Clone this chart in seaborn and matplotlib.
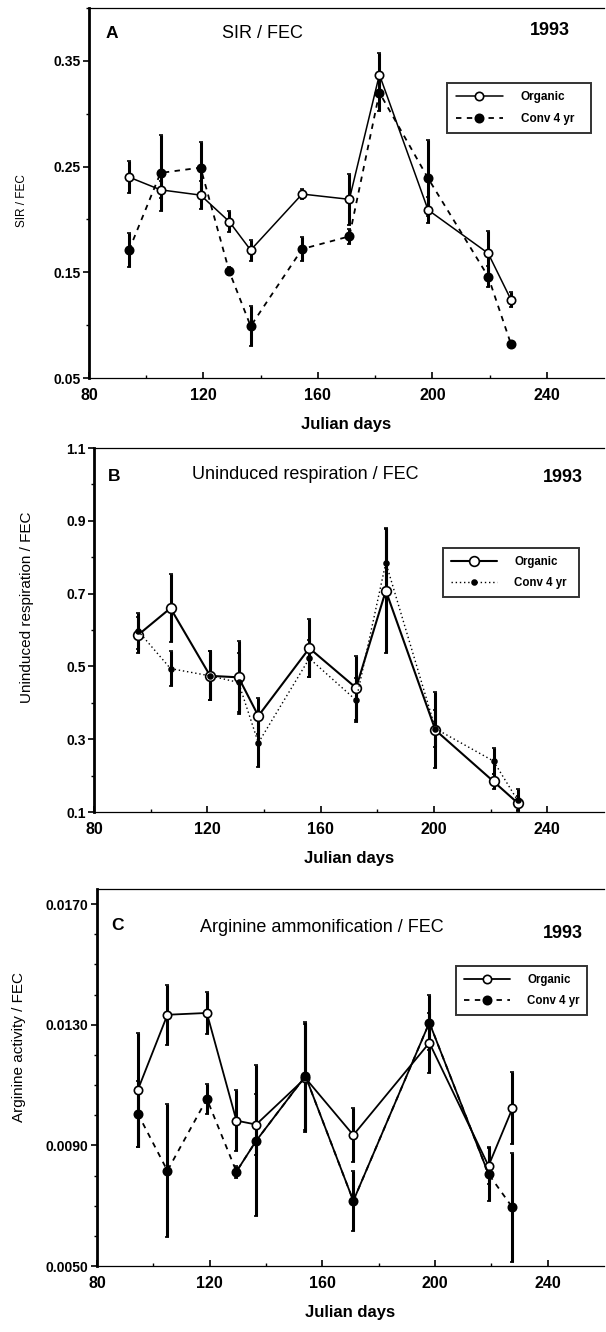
import numpy as np
import pandas as pd
import matplotlib
matplotlib.use("Agg")
import matplotlib.pyplot as plt
import seaborn as sns
from matplotlib.ticker import MultipleLocator, FixedLocator

# ---------------- data ----------------
days_a = [94, 105, 119, 129, 136.5, 154.5, 171, 181.5, 198.5, 219.5, 227.5]
org_a = [0.240, 0.228, 0.223, 0.198, 0.171, 0.224, 0.219, 0.337, 0.209, 0.168, 0.124]
org_a_err = [0.015, 0.008, 0.013, 0.010, 0.010, 0.005, 0.024, 0.020, 0.012, 0.021, 0.007]
conv_a = [0.171, 0.244, 0.249, 0.151, 0.099, 0.172, 0.184, 0.320, 0.239, 0.146, 0.082]
conv_a_err = [0.016, 0.036, 0.024, 0.004, 0.019, 0.011, 0.007, 0.017, 0.036, 0.010, 0.002]

days_b = [95.5, 107, 121, 131, 138, 156, 172.5, 183, 200.5, 221, 229.5]
org_b = [0.586, 0.660, 0.474, 0.470, 0.364, 0.550, 0.441, 0.708, 0.325, 0.184, 0.125]
org_b_err = [0.05, 0.093, 0.067, 0.10, 0.05, 0.08, 0.087, 0.17, 0.105, 0.02, 0.02]
conv_b = [0.598, 0.494, 0.474, 0.456, 0.290, 0.522, 0.407, 0.785, 0.329, 0.240, 0.132]
conv_b_err = [0.05, 0.048, 0.067, 0.08, 0.066, 0.05, 0.06, 0.095, 0.05, 0.035, 0.03]

days_c = [94.5, 105, 119, 129.5, 136.5, 154, 171, 198, 219, 227.5]
org_c = [0.01084, 0.01333, 0.01339, 0.00982, 0.00969, 0.01123, 0.00934, 0.01240, 0.00832, 0.01023]
org_c_err = [0.0019, 0.0010, 0.0007, 0.0010, 0.0010, 0.0018, 0.0009, 0.0010, 0.0006, 0.0012]
conv_c = [0.01005, 0.00816, 0.01054, 0.00813, 0.00915, 0.01130, 0.00716, 0.01307, 0.00805, 0.00694]
conv_c_err = [0.0011, 0.0022, 0.0005, 0.0002, 0.0025, 0.0018, 0.0010, 0.0009, 0.0009, 0.0018]

series_names = ["Organic", "Conv 4 yr"]
panel_letters = ["A", "B", "C"]
panel_titles = ["SIR / FEC", "Uninduced respiration / FEC", "Arginine ammonification / FEC"]
year_label = "1993"
y_labels = ["SIR / FEC", "Uninduced respiration / FEC", "Arginine activity / FEC"]
x_label = "Julian days"
x_ticks = [80, 120, 160, 200, 240]
y_ticks_a = [0.05, 0.15, 0.25, 0.35]
y_tick_labels_a = ["0.05", "0.15", "0.25", "0.35"]
y_ticks_b = [0.1, 0.3, 0.5, 0.7, 0.9, 1.1]
y_tick_labels_b = ["0.1", "0.3", "0.5", "0.7", "0.9", "1.1"]
y_ticks_c = [0.0050, 0.0090, 0.0130, 0.0170]
y_tick_labels_c = ["0.0050", "0.0090", "0.0130", "0.0170"]

# ---------------- style ----------------
sns.set_theme(style="ticks")
plt.rcParams['font.family'] = ['Liberation Sans', 'DejaVu Sans']
plt.rcParams['font.weight'] = 'bold'
for k in ["text.color", "axes.labelcolor", "xtick.color", "ytick.color", "axes.edgecolor"]:
    plt.rcParams[k] = "black"

fig = plt.figure(figsize=(6.06, 13.32), dpi=100)
fig.patch.set_facecolor("white")

axA = fig.add_axes([89/606, 1 - 378/1332, 515/606, 370/1332])
axB = fig.add_axes([94/606, 1 - 812/1332, 510/606, 364/1332])
axC = fig.add_axes([97/606, 1 - 1266/1332, 507/606, 377/1332])


def draw_series(ax, x, y, err, ls, marker, ms, mfc, lw, label, eb_lw=2.2, solid_span=None):
    df = pd.DataFrame({"day": x, "val": y})
    sns.lineplot(data=df, x="day", y="val", ax=ax, sort=False, color="black",
                 linestyle=ls, linewidth=lw, marker=marker, markersize=ms,
                 markerfacecolor=mfc, markeredgecolor="black", markeredgewidth=1.2,
                 label=label, zorder=3)
    if solid_span is not None:
        i0, i1 = solid_span
        sub = df.iloc[i0:i1 + 1]
        sns.lineplot(data=sub, x="day", y="val", ax=ax, sort=False, color="black",
                     linestyle="-", linewidth=lw, legend=False, zorder=2.5)
    ax.errorbar(x, y, yerr=err, fmt="none", ecolor="black", elinewidth=eb_lw,
                capsize=1.5, capthick=1.2, zorder=2)


def style_axes(ax, ylim, yticks, yticklabels, minor_step, letter, title, title_pos,
               year_pos, letter_pos, ylabel, ylabel_fs, ylabel_pos, leg_bbox, leg_fs):
    ax.set_xlim(80, 260)
    ax.set_ylim(*ylim)
    ax.set_xticks(x_ticks)
    ax.set_xticklabels([str(t) for t in x_ticks], fontsize=11.5, fontweight="bold")
    ax.xaxis.set_minor_locator(FixedLocator([100, 140, 180, 220]))
    ax.set_yticks(yticks)
    ax.set_yticklabels(yticklabels, fontsize=10, fontweight="bold")
    ax.yaxis.set_minor_locator(MultipleLocator(minor_step))
    ax.tick_params(axis="y", which="major", direction="out", length=4, width=1.2, pad=2)
    ax.tick_params(axis="y", which="minor", direction="out", length=2, width=1)
    ax.tick_params(axis="x", which="major", direction="in", length=4, width=1.2, pad=7)
    ax.tick_params(axis="x", which="minor", direction="in", length=2, width=1)
    ax.spines["left"].set_linewidth(2.0)
    ax.spines["bottom"].set_linewidth(0.9)
    ax.spines["top"].set_linewidth(0.9)
    ax.spines["right"].set_visible(False)
    ax.set_xlabel(x_label, fontsize=12, fontweight="bold", labelpad=10)
    ax.set_ylabel(ylabel, fontsize=ylabel_fs, fontweight="normal")
    ax.yaxis.set_label_coords(*ylabel_pos)
    ax.text(letter_pos[0], letter_pos[1], letter, transform=ax.transAxes,
            fontsize=12.5, fontweight="bold", ha="center", va="center")
    ax.text(title_pos[0], title_pos[1], title, transform=ax.transAxes,
            fontsize=13, fontweight="normal", ha="center", va="center")
    ax.text(year_pos[0], year_pos[1], year_label, transform=ax.transAxes,
            fontsize=13, fontweight="bold", ha="center", va="center")
    leg = ax.legend(loc="lower left", bbox_to_anchor=leg_bbox, mode="expand",
                    frameon=True, fancybox=False, edgecolor="black",
                    fontsize=leg_fs, handlelength=4.0, borderpad=0.7,
                    labelspacing=0.8, handletextpad=1.5, borderaxespad=0)
    leg.get_frame().set_linewidth(1.4)
    for t in leg.get_texts():
        t.set_fontweight("bold")
    ax.set_facecolor("white")


# Panel A
draw_series(axA, days_a, org_a, org_a_err, "-", "o", 6, "white", 1.1, series_names[0])
draw_series(axA, days_a, conv_a, conv_a_err, (0, (3, 3)), "o", 6, "black", 1.3, series_names[1])
style_axes(axA, (0.05, 0.40), y_ticks_a, y_tick_labels_a, 0.05, panel_letters[0],
           panel_titles[0], (0.337, 0.93), (0.895, 0.94), (0.044, 0.932),
           y_labels[0], 8.5, (-0.118, 0.48), (0.696, 0.662, 0.279, 0.135), 8.5)

# Panel B
draw_series(axB, days_b, org_b, org_b_err, "-", "o", 7, "white", 1.5, series_names[0])
draw_series(axB, days_b, conv_b, conv_b_err, (0, (1, 2)), "o", 3.5, "black", 1.0, series_names[1])
style_axes(axB, (0.1, 1.1), y_ticks_b, y_tick_labels_b, 0.1, panel_letters[1],
           panel_titles[1], (0.414, 0.926), (0.92, 0.92), (0.039, 0.921),
           y_labels[1], 11, (-0.118, 0.563), (0.684, 0.591, 0.267, 0.131), 8.3)

# Panel C
draw_series(axC, days_c, org_c, org_c_err, "-", "o", 6, "white", 1.3, series_names[0])
draw_series(axC, days_c, conv_c, conv_c_err, (0, (3, 3)), "o", 6, "black", 1.3, series_names[1],
            solid_span=(3, 8))
style_axes(axC, (0.0050, 0.0175), y_ticks_c, y_tick_labels_c, 0.001, panel_letters[2],
           panel_titles[2], (0.443, 0.897), (0.919, 0.883), (0.041, 0.902),
           y_labels[2], 11, (-0.14, 0.58), (0.708, 0.666, 0.258, 0.13), 8.3)

fig.savefig("out.png", dpi=100, facecolor="white")
